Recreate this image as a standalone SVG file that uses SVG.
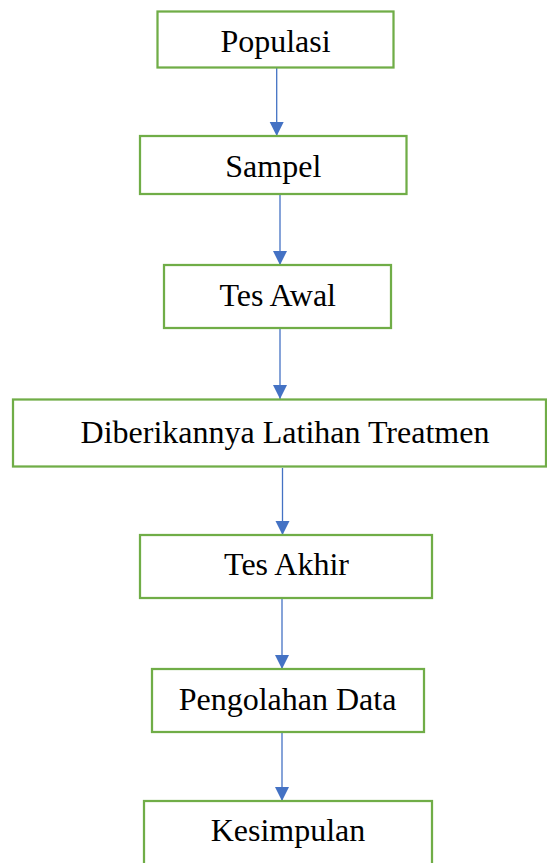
<svg xmlns="http://www.w3.org/2000/svg" width="547" height="863" viewBox="0 0 547 863">
<style>
.box{fill:#fff;stroke:#70AD47;stroke-width:2.25}
.lbl{font-family:"Liberation Serif","Times New Roman",serif;font-size:32px;fill:#000;text-anchor:middle}
.conn{stroke:#4472C4;stroke-width:1.3;fill:none}
</style>
<defs>
<marker id="ah" markerUnits="userSpaceOnUse" markerWidth="14" markerHeight="15" refX="14" refY="7" orient="auto" viewBox="0 0 14 14">
<path d="M0,0 L14,7 L0,14 Z" fill="#4472C4"/>
</marker>
</defs>
<rect width="547" height="863" fill="#fff"/>
<g id="connectors">
<line class="conn" x1="276.7" y1="68" x2="276.7" y2="136" marker-end="url(#ah)"/>
<line class="conn" x1="280" y1="195" x2="280" y2="265" marker-end="url(#ah)"/>
<line class="conn" x1="280" y1="329" x2="280" y2="399" marker-end="url(#ah)"/>
<line class="conn" x1="282.5" y1="468" x2="282.5" y2="535" marker-end="url(#ah)"/>
<line class="conn" x1="282" y1="599" x2="282" y2="669" marker-end="url(#ah)"/>
<line class="conn" x1="282" y1="733" x2="282" y2="801" marker-end="url(#ah)"/>
</g>
<g id="populasi">
<rect class="box" x="157.5" y="11.5" width="236" height="56"/>
<text class="lbl" x="275.5" y="52.3">Populasi</text>
</g>
<g id="sampel">
<rect class="box" x="140" y="136" width="266.5" height="58"/>
<text class="lbl" x="273.3" y="176.7">Sampel</text>
</g>
<g id="tes-awal">
<rect class="box" x="164" y="265" width="227" height="63"/>
<text class="lbl" x="277.7" y="305.7">Tes Awal</text>
</g>
<g id="treatmen">
<rect class="box" x="13" y="399.5" width="533" height="67"/>
<text class="lbl" x="285" y="442.6">Diberikannya Latihan Treatmen</text>
</g>
<g id="tes-akhir">
<rect class="box" x="140" y="535" width="292" height="63"/>
<text class="lbl" x="286.5" y="575">Tes Akhir</text>
</g>
<g id="pengolahan">
<rect class="box" x="152" y="669" width="272" height="63"/>
<text class="lbl" x="287.5" y="710">Pengolahan Data</text>
</g>
<g id="kesimpulan">
<rect class="box" x="144" y="801" width="288" height="75"/>
<text class="lbl" x="288" y="841">Kesimpulan</text>
</g>
</svg>
